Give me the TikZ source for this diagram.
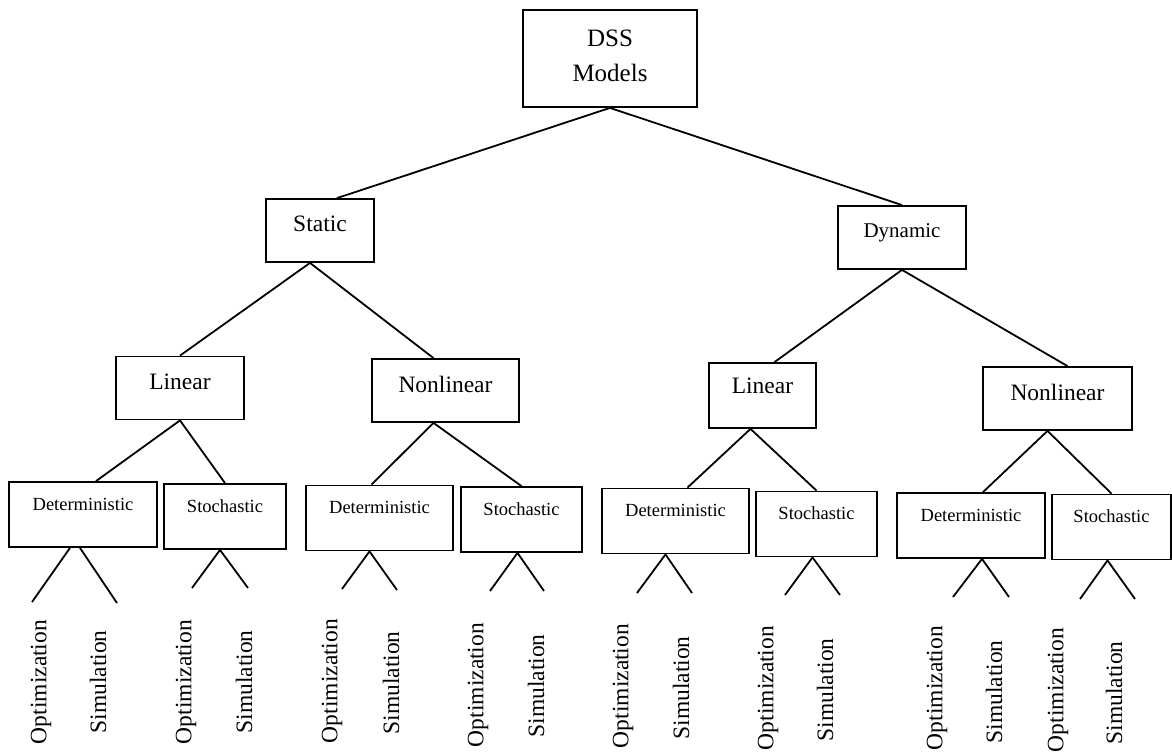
\documentclass[tikz,border=0pt]{standalone}
\usepackage{fontspec}
\setmainfont{Liberation Serif}
\begin{document}
\begin{tikzpicture}[
        x=0.5pt, y=-0.5pt,
        caja/.style={
            draw,
            line width=0.9pt,
            inner sep=0pt,
            align=center,
            font=\fontsize{11.75}{14}\selectfont,
            text height=16.5pt,
            text depth=15pt
        },
        cajachica/.style={
            caja,
            font=\fontsize{9.25}{11}\selectfont,
            text height=14pt,
            text depth=18.5pt
        },
        rama/.style={line width=0.9pt},
        hoja/.style={rotate=90, inner sep=0pt, font=\fontsize{11.75}{14}\selectfont}
    ]
        \useasboundingbox (0,0) rectangle (1172,754);

        \node[caja, minimum width=87pt, font=\fontsize{12.5}{17.5}\selectfont,
            text height=36pt, text depth=12.5pt] (models) at (610,58.5)
        {DSS\\Models};

        \node[caja, minimum width=54pt] (static) at (320,230.5) {Static};
        \node[caja, minimum width=64pt, font=\fontsize{10.5}{12}\selectfont,
            text height=16pt, text depth=15.5pt] (dynamic) at (902,237.5) {Dynamic};

        \node[caja, minimum width=64pt] (slinear) at (180,388) {Linear};
        \node[caja, minimum width=73.5pt] (snonlinear) at (445.5,390.5) {Nonlinear};
        \node[caja, minimum width=53.5pt, text height=15pt, text depth=17.5pt] (dlinear) at (762.5,395.5) {Linear};
        \node[caja, minimum width=74.5pt] (dnonlinear) at (1057.5,398.5) {Nonlinear};

        \node[cajachica, minimum width=74pt] (sldet) at (83,514.5) {Deterministic};
        \node[cajachica, minimum width=61pt] (slsto) at (225,516.5) {Stochastic};
        \node[cajachica, minimum width=73.5pt] (sndet) at (379.5,518) {Deterministic};
        \node[cajachica, minimum width=60.5pt] (snsto) at (521.5,519.5) {Stochastic};
        \node[cajachica, minimum width=73.5pt] (dldet) at (675.5,521) {Deterministic};
        \node[cajachica, minimum width=60.5pt] (dlsto) at (816.5,524) {Stochastic};
        \node[cajachica, minimum width=74pt] (dndet) at (971,525.5) {Deterministic};
        \node[cajachica, minimum width=59.5pt] (dnsto) at (1111.5,527) {Stochastic};

        % ramas del arbol
        \draw[rama] (models.south) -- ([xshift=8.5pt]static.north);
        \draw[rama] (models.south) -- (dynamic.north);
        \draw[rama] ([xshift=-5pt]static.south) -- (slinear.north);
        \draw[rama] ([xshift=-5pt]static.south) -- ([xshift=-6pt]snonlinear.north);
        \draw[rama] (dynamic.south) -- ([xshift=6pt]dlinear.north);
        \draw[rama] (dynamic.south) -- ([xshift=5pt]dnonlinear.north);
        \draw[rama] (slinear.south) -- ([xshift=6.5pt]sldet.north);
        \draw[rama] (slinear.south) -- (slsto.north);
        \draw[rama] ([xshift=-6pt]snonlinear.south) -- ([xshift=-4pt]sndet.north);
        \draw[rama] ([xshift=-6pt]snonlinear.south) -- (snsto.north);
        \draw[rama] ([xshift=-6pt]dlinear.south) -- ([xshift=6pt]dldet.north);
        \draw[rama] ([xshift=-6pt]dlinear.south) -- (dlsto.north);
        \draw[rama] ([xshift=-5pt]dnonlinear.south) -- ([xshift=6pt]dndet.north);
        \draw[rama] ([xshift=-5pt]dnonlinear.south) -- (dnsto.north);

        % extremos de las hojas
        \coordinate (sldeto) at (32,602);
        \coordinate (sldets) at (117,603);
        \coordinate (slstoo) at (192,588);
        \coordinate (slstos) at (248,588);
        \coordinate (sndeto) at (342,589);
        \coordinate (sndets) at (397,590);
        \coordinate (snstoo) at (490,591);
        \coordinate (snstos) at (544,591);
        \coordinate (dldeto) at (637,593);
        \coordinate (dldets) at (692,593);
        \coordinate (dlstoo) at (785,595);
        \coordinate (dlstos) at (840,595);
        \coordinate (dndeto) at (953,597);
        \coordinate (dndets) at (1009,597);
        \coordinate (dnstoo) at (1080,599);
        \coordinate (dnstos) at (1135,599);

        \draw[rama] ([xshift=-6.5pt]sldet.south) -- (sldeto);
        \draw[rama] ([xshift=-1.5pt]sldet.south) -- (sldets);
        \draw[rama] ([xshift=-2.5pt]slsto.south) -- (slstoo);
        \draw[rama] ([xshift=-2.5pt]slsto.south) -- (slstos);
        \draw[rama] ([xshift=-5pt]sndet.south) -- (sndeto);
        \draw[rama] ([xshift=-5pt]sndet.south) -- (sndets);
        \draw[rama] ([xshift=-2pt]snsto.south) -- (snstoo);
        \draw[rama] ([xshift=-2pt]snsto.south) -- (snstos);
        \draw[rama] ([xshift=-5pt]dldet.south) -- (dldeto);
        \draw[rama] ([xshift=-5pt]dldet.south) -- (dldets);
        \draw[rama] ([xshift=-2pt]dlsto.south) -- (dlstoo);
        \draw[rama] ([xshift=-2pt]dlsto.south) -- (dlstos);
        \draw[rama] ([xshift=5.5pt]dndet.south) -- (dndeto);
        \draw[rama] ([xshift=5.5pt]dndet.south) -- (dndets);
        \draw[rama] ([xshift=-2pt]dnsto.south) -- (dnstoo);
        \draw[rama] ([xshift=-2pt]dnsto.south) -- (dnstos);

        % hojas
        \node[hoja] (sldetopt) at (41,682) {Optimization};
        \node[hoja] (sldetsim) at (98,682) {Simulation};
        \node[hoja] (slstoopt) at (186,682) {Optimization};
        \node[hoja] (slstosim) at (244,682) {Simulation};
        \node[hoja] (sndetopt) at (332,681) {Optimization};
        \node[hoja] (sndetsim) at (391,683) {Simulation};
        \node[hoja] (snstoopt) at (478,685) {Optimization};
        \node[hoja] (snstosim) at (536,686) {Simulation};
        \node[hoja] (dldetopt) at (623,686) {Optimization};
        \node[hoja] (dldetsim) at (681,688) {Simulation};
        \node[hoja] (dlstoopt) at (768,688) {Optimization};
        \node[hoja] (dlstosim) at (825,690) {Simulation};
        \node[hoja] (dndetopt) at (937,688) {Optimization};
        \node[hoja] (dndetsim) at (994,692) {Simulation};
        \node[hoja] (dnstoopt) at (1058,690) {Optimization};
        \node[hoja] (dnstosim) at (1114,693) {Simulation};
    \end{tikzpicture}
\end{document}
